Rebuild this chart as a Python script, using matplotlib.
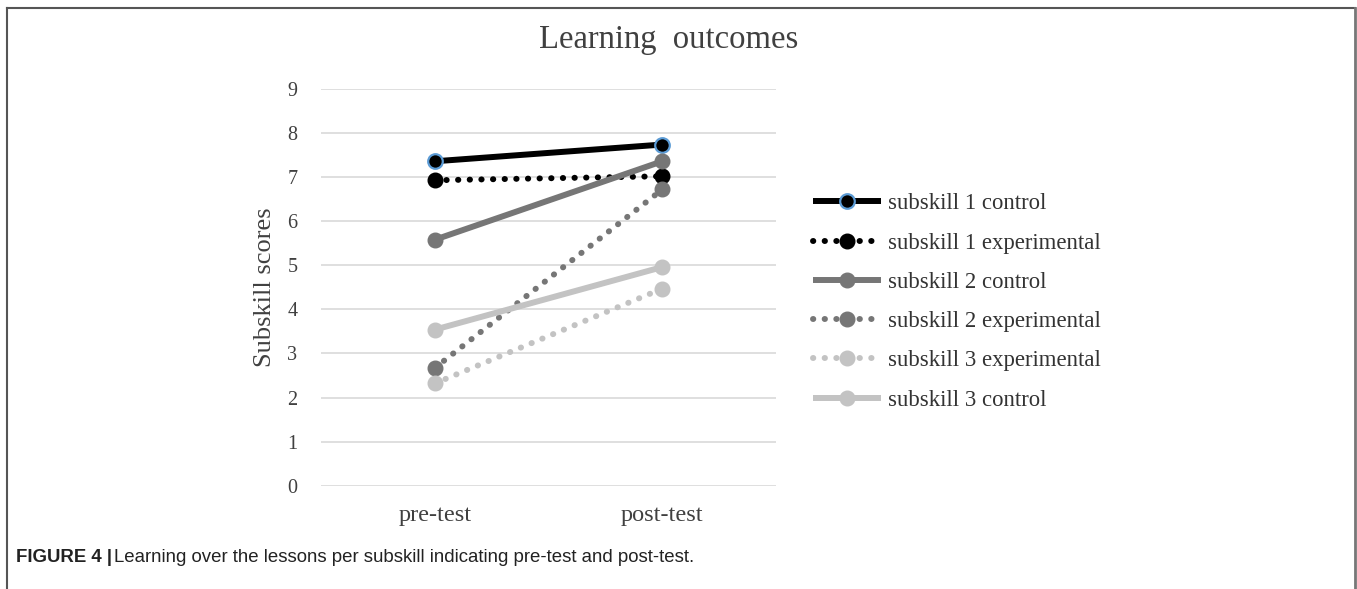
import matplotlib.pyplot as plt
from matplotlib.lines import Line2D

# data
phases = ['pre-test', 'post-test']
sub1_control = [7.36, 7.74]
sub1_experimental = [6.93, 7.02]
sub2_control = [5.58, 7.36]
sub2_experimental = [2.67, 6.72]
sub3_experimental = [2.32, 4.47]
sub3_control = [3.54, 4.96]
yticks = list(range(0, 10))

BLACK = '#000000'
GRAY = '#767676'
LIGHT = '#c3c3c3'
DOTS = (0, (0.05, 1.9))

plt.rcParams['font.family'] = ['Liberation Serif', 'DejaVu Serif']

fig = plt.figure(figsize=(13.57, 5.89), dpi=100)
ax = fig.add_axes([321 / 1357, 1 - 485.7 / 589, 455 / 1357, (485.7 - 89) / 589])

x = [0, 1]
series = [
    (sub1_control, 'subskill 1 control', BLACK, '-', '#5b9bd5'),
    (sub1_experimental, 'subskill 1 experimental', BLACK, DOTS, BLACK),
    (sub2_control, 'subskill 2 control', GRAY, '-', GRAY),
    (sub2_experimental, 'subskill 2 experimental', GRAY, DOTS, GRAY),
    (sub3_experimental, 'subskill 3 experimental', LIGHT, DOTS, LIGHT),
    (sub3_control, 'subskill 3 control', LIGHT, '-', LIGHT),
]
handles = []
for vals, label, col, ls, edge in series:
    h, = ax.plot(x, vals, color=col, linestyle=ls, linewidth=4.3,
                 marker='o', markersize=10.5, markerfacecolor=col,
                 markeredgecolor=edge, markeredgewidth=1.6 if edge != col else 1,
                 dash_capstyle='round', solid_capstyle='butt', label=label)
    handles.append(h)

ax.set_xlim(-0.5, 1.5)
ax.set_ylim(0, 9)
ax.set_xticks(x)
ax.set_xticklabels(phases, fontsize=17.5, color='#404040')
ax.set_yticks(yticks)
ax.tick_params(axis='y', labelsize=14.5, labelcolor='#404040', length=0, pad=17)
ax.tick_params(axis='x', length=0, pad=14)
ax.grid(axis='y', color='#d9d9d9', linewidth=1.2)
ax.set_axisbelow(True)
for s in ax.spines.values():
    s.set_visible(False)
ax.set_ylabel('Subskill scores', fontsize=19, color='#404040', labelpad=8)

fig.text(669 / 1357, 1 - 40 / 589, 'Learning  outcomes', fontsize=23.5,
         color='#404040', ha='center', va='center')

fig.legend(handles=handles, loc='center left',
           bbox_to_anchor=(792 / 1357, 1 - 302 / 589), frameon=False,
           fontsize=16.4, handlelength=3.0, handletextpad=0.3,
           labelspacing=0.8, labelcolor='#333333')

# outer frame
fc = '#555555'
fig.add_artist(Line2D([7 / 1357, 7 / 1357], [0, 1 - 8 / 589], color=fc, lw=1.5, transform=fig.transFigure))
fig.add_artist(Line2D([7 / 1357, 1355 / 1357], [1 - 8 / 589, 1 - 8 / 589], color=fc, lw=1.5, transform=fig.transFigure))
fig.add_artist(Line2D([1355 / 1357, 1355 / 1357], [0, 1 - 8 / 589], color='#777777', lw=2, transform=fig.transFigure))

# caption
cap = fig.text(16 / 1357, 1 - 557 / 589, 'FIGURE 4 |', fontsize=13.4, fontweight='bold',
               family=['Liberation Sans', 'DejaVu Sans'], color='#222222', va='center')
fig.text(114 / 1357, 1 - 557 / 589, 'Learning over the lessons per subskill indicating pre-test and post-test.',
         fontsize=13.4, family=['Liberation Sans', 'DejaVu Sans'], color='#222222', va='center')

fig.savefig('out.png', dpi=100)
